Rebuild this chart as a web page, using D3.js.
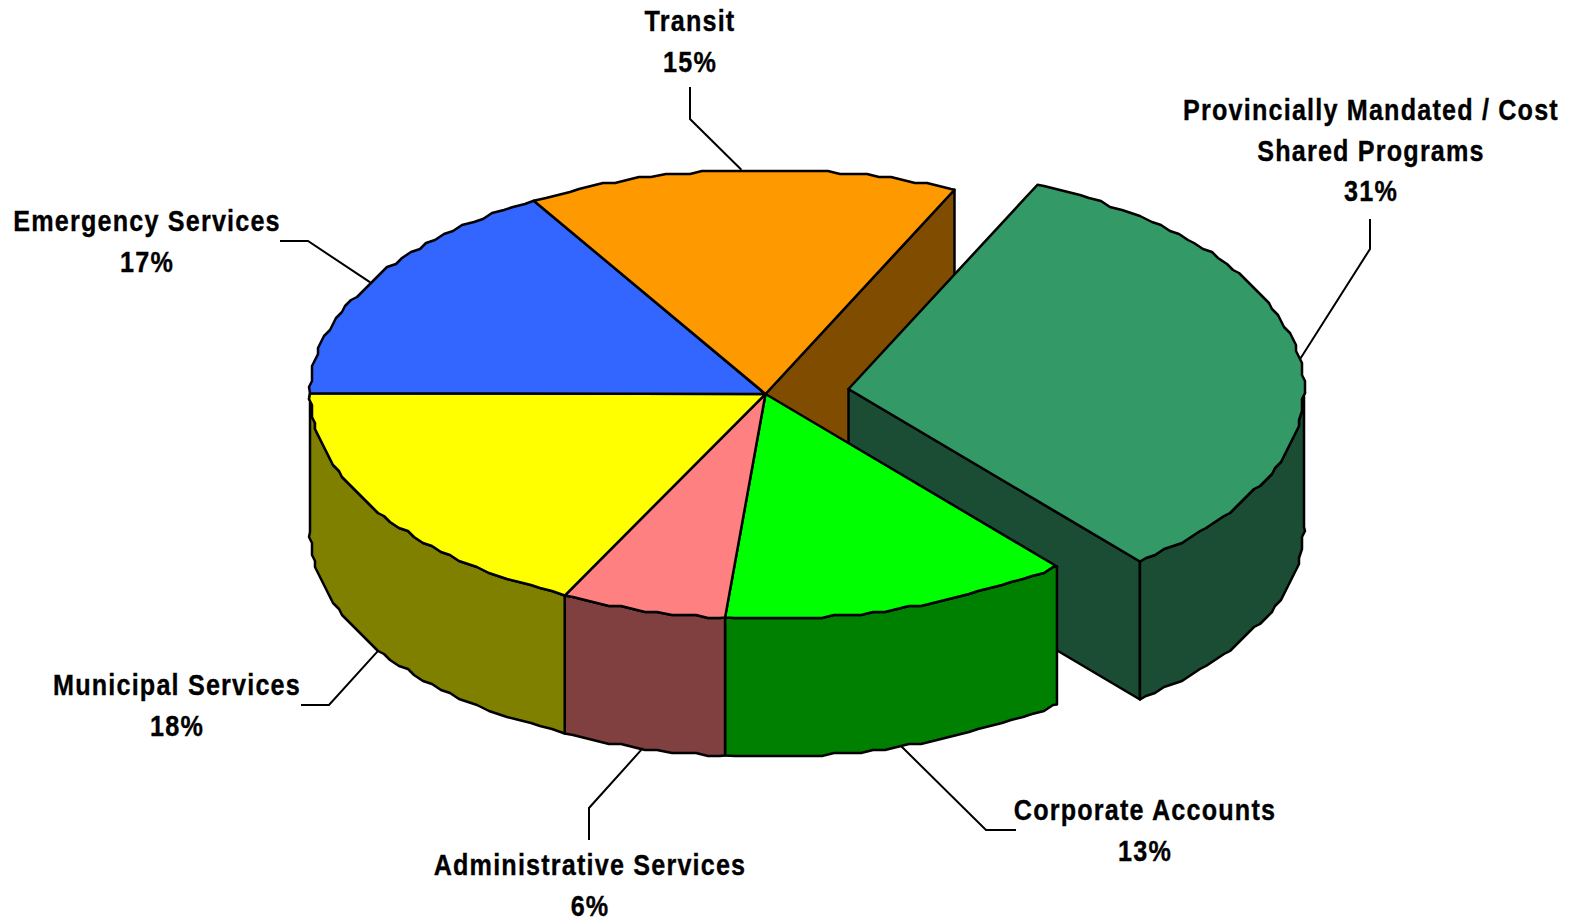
<!DOCTYPE html>
<html>
<head>
<meta charset="utf-8">
<script src="https://cdn.jsdelivr.net/npm/d3@7"></script>
<style>
  html, body { margin: 0; background: #fff; }
  text { font-family: "Liberation Sans", Arial, sans-serif; font-weight: 700; fill: #000; stroke: #000; stroke-width: 0.35; }
</style>
</head>
<body>
<script>
// Budget shares, in the order the slices run clockwise
const categories = ["Provincially Mandated / Cost Shared Programs", "Corporate Accounts", "Administrative Services", "Municipal Services", "Emergency Services", "Transit"];
const shares = [31, 13, 6, 18, 17, 15];
const topColors = ["#339966", "#00FF00", "#FF8080", "#FFFF00", "#3366FF", "#FF9900"];
const sideColors = ["#1A4D33", "#008000", "#804040", "#808000", "#1A3380", "#804D00"];

// Label placement: wrapped lines, text centre, first baseline, leader elbow and leader end
const labelLayout = [
  { lines: ["Provincially Mandated / Cost", "Shared Programs"], x: 1371, y: 120, elbow: [1370, 249], end: [1370, 219] },
  { lines: ["Corporate Accounts"], x: 1145, y: 820, elbow: [986, 830], end: [1016, 830] },
  { lines: ["Administrative Services"], x: 590, y: 875, elbow: [589, 808], end: [589, 840] },
  { lines: ["Municipal Services"], x: 177, y: 695, elbow: [329, 705], end: [301, 705] },
  { lines: ["Emergency Services"], x: 147, y: 231, elbow: [308, 241], end: [280, 241] },
  { lines: ["Transit"], x: 690, y: 31, elbow: [690, 119], end: [690, 87] }
];

const width = 1573, height = 921;
const cx = 765.5, cy = 394, rx = 455.5, ry = 224.5, depth = 138;
const explode = [83, -5];
const rotation = 26.1;
const gridStep = 3;
const sampleStep = 1.6;
const rad = d => d * Math.PI / 180;

const svg = d3.select("body").append("svg").attr("width", width).attr("height", height);

const pie = d3.pie().sort(null).value(d => d).startAngle(0).endAngle(2 * Math.PI);
const arcs = pie(shares);

// Pie angle (radians from the first slice) to on-screen bearing in degrees,
// with the slight unevenness a tilted 3-D view gives the slices
const bearing = a => {
  const t = a * 180 / Math.PI;
  return rotation + t + 2.4 * Math.cos(rad(t - 110)) - Math.cos(rad(2 * t + 40));
};
const rimPoint = (deg, o, drop) => [
  cx + o[0] + rx * Math.sin(rad(deg)),
  cy + o[1] - ry * Math.cos(rad(deg)) + drop
];

// Rim sampled on a shared bearing grid and snapped to whole steps, which gives
// the ruffled metafile outline; faces sharing a rim get identical vertices
const snap = v => Math.round(v / gridStep) * gridStep;
const rimPath = (d0, d1, o, drop) => {
  const lo = Math.min(d0, d1), hi = Math.max(d0, d1);
  const k0 = Math.ceil(lo / sampleStep), k1 = Math.floor(hi / sampleStep);
  const inner = d3.range(k0, k1 + 1)
    .map(k => k * sampleStep)
    .filter(d => d > lo + 0.4 && d < hi - 0.4)
    .map(d => {
      const p = rimPoint(d, o, 0);
      return [snap(p[0]), snap(p[1]) + drop];
    });
  const pts = [rimPoint(lo, o, drop), ...inner, rimPoint(hi, o, drop)];
  return d0 <= d1 ? pts : pts.reverse();
};

const line = d3.line().curve(d3.curveLinear);
const poly = (pts, fill, parent) => parent.append("path")
  .attr("d", line(pts) + "Z")
  .attr("fill", fill)
  .attr("stroke", "#000")
  .attr("stroke-width", 2.5)
  .attr("stroke-linejoin", "round");

const wedges = arcs.map((a, i) => ({
  i,
  from: bearing(a.startAngle),
  to: bearing(a.endAngle),
  offset: i === 0 ? explode : [0, 0]
}));

const topFace = (w, g) => {
  const apex = [cx + w.offset[0], cy + w.offset[1]];
  poly([apex, ...rimPath(w.from, w.to, w.offset, 0)], topColors[w.i], g);
};
const sideFace = (w, g) => {
  // Only the near half of the wall (bearing 90 to 270) faces the viewer
  const a = Math.max(w.from, 90), b = Math.min(w.to, 270);
  if (b <= a) return;
  poly([...rimPath(a, b, w.offset, 0), ...rimPath(b, a, w.offset, depth)], sideColors[w.i], g);
};
const cutFace = (deg, o, color, g) => {
  const apex = [cx + o[0], cy + o[1]];
  const rim = rimPoint(deg, o, 0);
  poly([apex, rim, [rim[0], rim[1] + depth], [apex[0], apex[1] + depth]], color, g);
};

const chart = svg.append("g");

// Cut wall of the slice left behind by the exploded piece
const transit = wedges[5];
cutFace(transit.to - 360, [0, 0], sideColors[5], chart);

// Exploded slice goes next so the main pie can overlap its wall
const exploded = wedges[0];
cutFace(exploded.to, exploded.offset, sideColors[0], chart);
sideFace(exploded, chart);
topFace(exploded, chart);

// Remaining slices: walls, then tops
wedges.slice(1).forEach(w => sideFace(w, chart));
wedges.slice(1).forEach(w => topFace(w, chart));

// Leader lines start on the rim at each slice's middle bearing
const leaders = svg.append("g");
wedges.forEach(w => {
  const mid = (w.from + w.to) / 2;
  const front = mid > 90 && mid < 270;
  const start = rimPoint(mid, w.offset, front ? depth : 0);
  const l = labelLayout[w.i];
  leaders.append("path")
    .attr("d", line([start, l.elbow, l.end]))
    .attr("fill", "none")
    .attr("stroke", "#000")
    .attr("stroke-width", 2);
});

// Category name (wrapped) and share below it, in a condensed bold face
const labels = svg.append("g");
labelLayout.forEach((l, i) => {
  const rows = [...l.lines, shares[i] + "%"];
  const step = 40.5;
  rows.forEach((row, r) => {
    labels.append("text")
      .attr("transform", `translate(${l.x},${l.y + r * step}) scale(0.84,1)`)
      .attr("text-anchor", "middle")
      .attr("font-size", 30)
      .attr("letter-spacing", 1.4)
      .text(row);
  });
});
</script>
</body>
</html>
